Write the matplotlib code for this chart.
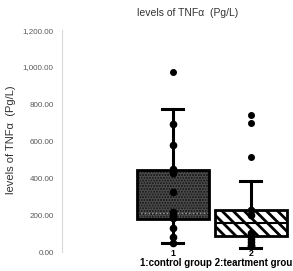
import matplotlib
matplotlib.use("Agg")
import matplotlib.pyplot as plt
from matplotlib.patches import PathPatch

plt.rcParams['font.family'] = ['Liberation Sans', 'DejaVu Sans']
plt.rcParams['hatch.linewidth'] = 2.0

# ---- data ----
groups = ["1", "2"]
whislo = [50, 23]
q1 = [178, 88]
med = [210, 158]
q3 = [443, 227]
whishi = [773, 385]
fliers = [[974], [740, 699, 515]]
g1_points = [692, 578, 449, 427, 326, 218, 200, 184, 130, 83, 50]
g2_points = [227, 200, 103, 85, 70, 55, 40, 30]
yticks = [0, 200, 400, 600, 800, 1000, 1200]

fig = plt.figure(figsize=(2.93, 2.71), dpi=100)
ax = fig.add_axes([0.2116, 0.0701, 0.788, 0.819])

stats = []
for i in range(2):
    stats.append(dict(label=groups[i], whislo=whislo[i], q1=q1[i], med=med[i],
                      q3=q3[i], whishi=whishi[i], fliers=fliers[i]))

bp = ax.bxp(stats, positions=[1, 2], widths=0.92, patch_artist=True,
            showfliers=True, capwidths=0.27,
            boxprops=dict(linewidth=2.0, edgecolor='black'),
            whiskerprops=dict(linewidth=2.2, color='black'),
            capprops=dict(linewidth=2.2, color='black'),
            medianprops=dict(linewidth=1.5, color='black'),
            flierprops=dict(marker='o', markersize=4, markerfacecolor='black',
                            markeredgecolor='black'))

# box 1: dark dotted texture
b1 = bp['boxes'][0]
b1.set_facecolor('#1a1a1a')
b1.set_edgecolor('#4a4a4a')
b1.set_hatch('......')
b1.set_linewidth(0)
ax.add_patch(PathPatch(b1.get_path(), fill=False, ec='black', lw=2.0, zorder=b1.get_zorder() + 0.1))
bp['medians'][0].set_color('#9a9a9a')
bp['medians'][0].set_linestyle(':')
bp['medians'][0].set_linewidth(1.0)

# box 2: white with diagonal stripes
b2 = bp['boxes'][1]
b2.set_facecolor('white')
b2.set_edgecolor('black')
b2.set_hatch('\\\\\\')
b2.set_linewidth(2.0)

ax.plot([1] * len(g1_points), g1_points, 'o', color='black', markersize=4.5, zorder=5)
ax.plot([2] * len(g2_points), g2_points, 'o', color='black', markersize=4.5, zorder=5)

ax.set_xlim(-0.423, 2.54)
ax.set_ylim(0, 1200)
ax.set_yticks(yticks)
ax.set_yticklabels([f"{v:,.2f}" for v in yticks], fontsize=5.8, color='#595959')
ax.set_xticks([1, 2])
ax.set_xticklabels(groups, fontsize=6.3, fontweight='bold')
ax.tick_params(axis='y', length=0, pad=6)
ax.tick_params(axis='x', length=0, pad=-2)
for s in ['top', 'right', 'bottom']:
    ax.spines[s].set_visible(False)
ax.spines['left'].set_color('#d9d9d9')
ax.spines['left'].set_linewidth(0.8)

fig.text(0.642, 0.952, "levels of TNFα  (Pg/L)", ha='center', va='center',
         fontsize=7.5, color='#333333')
fig.text(0.038, 0.483, "levels of TNFα  (Pg/L)", ha='center', va='center',
         rotation=90, fontsize=8, color='#333333')
fig.text(140 / 293, 1 - 262.5 / 271, "1:control group 2:teartment grou", ha='left',
         va='center', fontsize=7, fontweight='bold')

fig.savefig("out.png", dpi=100)
